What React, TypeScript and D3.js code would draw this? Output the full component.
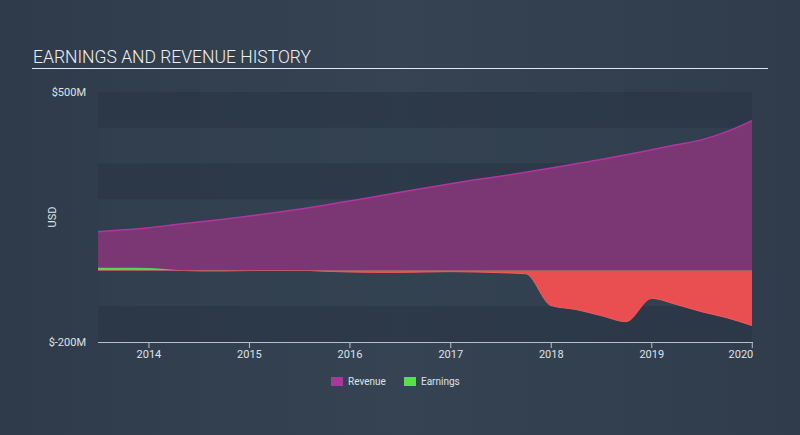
import React from "react";
import * as d3 from "d3";

const quarterDates = [
  "2013-06-30", "2013-09-30", "2013-12-31",
  "2014-03-31", "2014-06-30", "2014-09-30", "2014-12-31",
  "2015-03-31", "2015-06-30", "2015-09-30", "2015-12-31",
  "2016-03-31", "2016-06-30", "2016-09-30", "2016-12-31",
  "2017-03-31", "2017-06-30", "2017-09-30", "2017-12-31",
  "2018-03-31", "2018-06-30", "2018-09-30", "2018-12-31",
  "2019-03-31", "2019-06-30", "2019-09-30", "2019-12-31",
];
const revenue = [
  109, 114, 120,
  128, 136, 144, 153,
  162, 172, 183, 195,
  207, 219, 231, 243,
  254, 264, 275, 287,
  299, 311, 324, 338,
  352, 366, 389, 420,
];
const earnings = [
  8, 8, 7,
  2, -1, -1, 0,
  1, 1, -2, -4,
  -5, -5, -4, -3,
  -4, -6, -9, -98,
  -109, -126, -143, -78,
  -95, -115, -132, -154,
];
const yTickValues = [500, -200];
const yTickLabels = ["$500M", "$-200M"];
const xTickYears = [2014, 2015, 2016, 2017, 2018, 2019, 2020];
const legendItems = ["Revenue", "Earnings"];

const W = 800;
const H = 435;
const L = 98;
const R = 752;
const T = 92;
const B = 342;

export default function App() {
  const parse = d3.timeParse("%Y-%m-%d");
  const dates = quarterDates.map((d) => parse(d) as Date);
  const x = d3.scaleTime().domain([dates[0], dates[dates.length - 1]]).range([L, R]);
  const y = d3.scaleLinear().domain([-200, 500]).range([B, T]);
  const y0 = y(0);

  const revArea = d3
    .area<number>()
    .x((_, i) => x(dates[i]))
    .y0(y0)
    .y1((d) => y(d))
    .curve(d3.curveMonotoneX);
  const revLine = d3
    .line<number>()
    .x((_, i) => x(dates[i]))
    .y((d) => y(d))
    .curve(d3.curveMonotoneX);
  const earnArea = d3
    .area<number>()
    .x((_, i) => x(dates[i]))
    .y0(y0)
    .y1((d) => y(d))
    .curve(d3.curveMonotoneX);
  const earnLine = d3
    .line<number>()
    .x((_, i) => x(dates[i]))
    .y((d) => y(d))
    .curve(d3.curveMonotoneX);

  const bandLows = d3.range(-200, 500, 100);
  const legendColors = ["#a8399b", "#58e04c"];
  const font = "Roboto, 'Open Sans', sans-serif";

  return (
    <svg
      width={W}
      height={H}
      style={{ position: "fixed", left: 0, top: 0, display: "block" }}
      fontFamily={font}
    >
      <defs>
        <linearGradient id="bg" x1="0" x2="1" y1="0" y2="0">
          <stop offset="0" stopColor="#2f3b4a" />
          <stop offset="0.5" stopColor="#354352" />
          <stop offset="1" stopColor="#303c4b" />
        </linearGradient>
        <clipPath id="above">
          <rect x={L} y={T - 10} width={R - L} height={y0 - T + 10} />
        </clipPath>
        <clipPath id="below">
          <rect x={L} y={y0} width={R - L} height={B - y0 + 10} />
        </clipPath>
      </defs>
      <rect x={0} y={0} width={W} height={H} fill="url(#bg)" />

      <text x={33} y={63} fill="#eef0f2" fontSize={17.5} fontWeight={300}>
        EARNINGS AND REVENUE HISTORY
      </text>
      <line x1={32} x2={768} y1={68.5} y2={68.5} stroke="#e4e6e8" strokeWidth={1.2} />

      {bandLows.map((v) => {
        const dark = ((v + 200) / 100) % 2 === 0;
        return (
          <rect
            key={v}
            x={L}
            y={y(v + 100)}
            width={R - L}
            height={y(v) - y(v + 100)}
            fill={dark ? "#2b3745" : "#334151"}
            opacity={dark ? 0.75 : 0.4}
          />
        );
      })}

      <path d={revArea(revenue) || ""} fill="#7a3774" />
      <path d={revLine(revenue) || ""} fill="none" stroke="#b4359f" strokeWidth={1.5} />

      <g clipPath="url(#above)">
        <path d={earnArea(earnings) || ""} fill="#52d84a" />
      </g>
      <g clipPath="url(#below)">
        <path d={earnArea(earnings) || ""} fill="#e94f51" />
        <path d={earnLine(earnings) || ""} fill="none" stroke="#f25a5b" strokeWidth={1} />
      </g>
      <line x1={L} x2={R} y1={y0} y2={y0} stroke="#f06a7a" strokeWidth={0.6} opacity={0.6} />

      {yTickValues.map((v, i) => (
        <text
          key={v}
          x={86}
          y={y(v)}
          dy="0.35em"
          textAnchor="end"
          fill="#dfe3e7"
          fontSize={11}
        >
          {yTickLabels[i]}
        </text>
      ))}
      <text
        transform={`translate(56,${(T + B) / 2}) rotate(-90)`}
        textAnchor="middle"
        fill="#dfe3e7"
        fontSize={11}
      >
        USD
      </text>

      <line x1={L} x2={R + 1} y1={B + 0.5} y2={B + 0.5} stroke="#b7c0ca" strokeWidth={1} />
      {xTickYears.map((yr, i) => {
        const xp = x(new Date(yr, 0, 1));
        const last = i === xTickYears.length - 1;
        return (
          <g key={yr}>
            <line x1={xp} x2={xp} y1={B} y2={B + 6} stroke="#b7c0ca" strokeWidth={1} />
            <text
              x={last ? xp + 1 : xp}
              y={358}
              textAnchor={last ? "end" : "middle"}
              fill="#dfe3e7"
              fontSize={11}
            >
              {yr}
            </text>
          </g>
        );
      })}

      {legendItems.map((name, i) => {
        const lx = i === 0 ? 331 : 404;
        return (
          <g key={name}>
            <rect x={lx} y={377} width={12} height={9} fill={legendColors[i]} />
            <text x={lx + 17} y={385} fill="#dfe3e7" fontSize={10}>
              {name}
            </text>
          </g>
        );
      })}
    </svg>
  );
}
